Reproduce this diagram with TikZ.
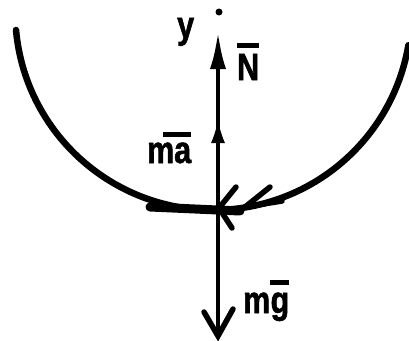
\documentclass[tikz,border=0pt]{standalone}
\usepackage{fontspec}
\setmainfont{Liberation Sans}
\newfontfamily\lblfont[FakeStretch=0.8,FakeBold=1.5]{Liberation Sans}
\usetikzlibrary{arrows.meta}
\begin{document}
\begin{tikzpicture}[x=1pt,y=-1pt,
  ink/.style={draw=black,line cap=round},
  barline/.style={draw=black,line width=4.5},
  lbl/.style={inner sep=0pt,anchor=base west,font=\fontsize{38}{38}\lblfont\bfseries}]
\useasboundingbox (0,0) rectangle (409,340);
% centre point
\coordinate (O) at (214,12);
\fill (219,12) circle (3.5);
% track (circle arc)
\draw[ink,line width=6.5] (16,30) arc[start angle=174.8,end angle=9.65,radius=198];
% thick scribble at the bottom of the track
\draw[ink,line width=9] (150,207) -- (240,211);
% velocity arrowhead marks
\coordinate (P) at (219,208);
\draw[ink,line width=5.5] (P) -- (236,187);
\draw[ink,line width=5.5] (P) -- (232,228);
\coordinate (Q) at (245,207);
\draw[ink,line width=5.5] (Q) -- (270,187);
\draw[ink,line width=5.5] (Q) -- (282,201);
% vertical axis with forces
\coordinate (top) at (218,31);
\coordinate (bot) at (218,336);
\draw[ink,line width=4.5,line cap=butt,-{Latex[length=38,width=16]}] (bot) -- (top);
\draw[line width=1,-{Latex[length=22,width=14]}] (218,150) -- (218,121);
\coordinate (bl) at (204,312);
\coordinate (br) at (233,309);
\draw[ink,line width=5.5] (bl) -- (bot) -- (br);
% labels
\node[lbl] (ylab) at (177,38) {y};
\node[lbl] (Nlab) at (237,80) {N};
\draw[barline] ([yshift=8pt]Nlab.north west) -- ([yshift=8pt]Nlab.north east);
\node[lbl] (malab) at (147,163) {ma};
\draw[barline] ([xshift=16pt,yshift=8pt]malab.north west) -- ([yshift=8pt]malab.north east);
\node[lbl] (mlab) at (243,313) {m};
\node[lbl,anchor=base west] (glab) at (mlab.base east) {g};
\draw[barline] ([yshift=10pt]glab.north west) -- ([yshift=10pt]glab.north east);
\end{tikzpicture}
\end{document}
